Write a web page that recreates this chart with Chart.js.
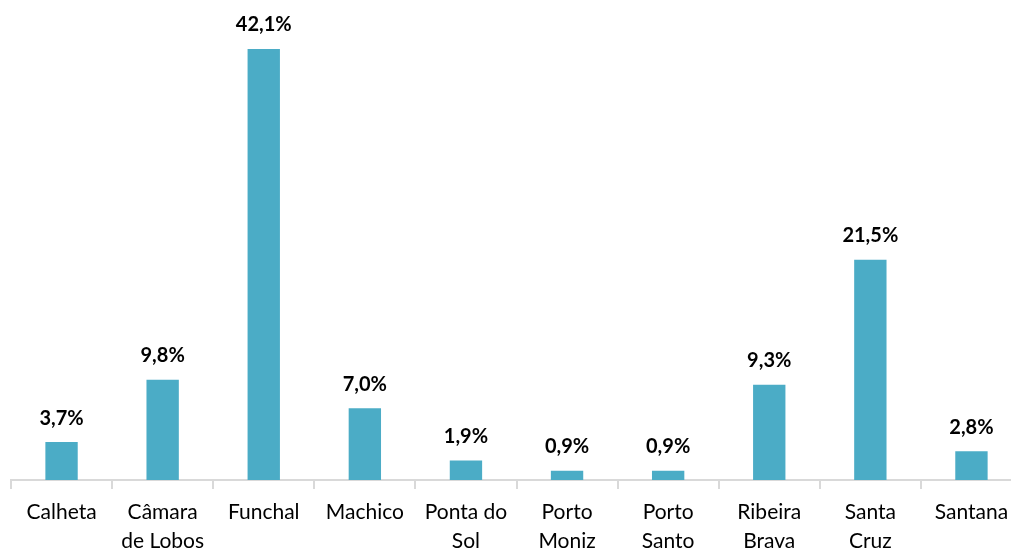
<!DOCTYPE html>
<html>
<head>
<meta charset="utf-8">
<script src="https://cdn.jsdelivr.net/npm/chart.js@4.4.0/dist/chart.umd.min.js"></script>
<style>
    html, body { margin: 0; padding: 0; background: #fff; overflow: hidden; }
    #wrap { position: relative; width: 1024px; height: 548px; }
</style>
</head>
<body>
<div id="wrap"><canvas id="chart"></canvas></div>
<script>
const categories = [
    ['Calheta'], ['Câmara', 'de Lobos'], ['Funchal'], ['Machico'], ['Ponta do', 'Sol'],
    ['Porto', 'Moniz'], ['Porto', 'Santo'], ['Ribeira', 'Brava'], ['Santa', 'Cruz'], ['Santana']
];
const shares = [3.7, 9.8, 42.1, 7.0, 1.9, 0.9, 0.9, 9.3, 21.5, 2.8];

const FONT = 'Lato, "Open Sans", sans-serif';

// labels above bars, comma decimal like the original
const valueLabels = {
    id: 'valueLabels',
    afterDatasetsDraw(chart) {
        const ctx = chart.ctx;
        const meta = chart.getDatasetMeta(0);
        ctx.save();
        ctx.font = 'bold 20px ' + FONT;
        ctx.fillStyle = '#000';
        ctx.textAlign = 'center';
        ctx.textBaseline = 'middle';
        meta.data.forEach((bar, i) => {
            const txt = shares[i].toFixed(1).replace('.', ',') + '%';
            ctx.fillText(txt, bar.x, bar.y - 24);
        });
        ctx.restore();
    }
};

new Chart(document.getElementById('chart'), {
    type: 'bar',
    data: {
        labels: categories,
        datasets: [{
            data: shares,
            backgroundColor: '#4bacc6',
            barPercentage: 0.32,
            categoryPercentage: 1.0
        }]
    },
    options: {
        responsive: true,
        maintainAspectRatio: false,
        animation: false,
        layout: { padding: { left: 11, right: 2, top: 0, bottom: 0 } },
        plugins: {
            legend: { display: false },
            tooltip: { enabled: false }
        },
        scales: {
            y: {
                display: false,
                min: 0,
                max: 46.875
            },
            x: {
                afterFit(scale) { scale.height = 68; },
                border: { color: '#d9d9d9', width: 2 },
                grid: {
                    offset: true,
                    drawOnChartArea: false,
                    drawTicks: true,
                    tickLength: 9,
                    color: '#d9d9d9',
                    lineWidth: 2
                },
                ticks: {
                    color: '#000',
                    font: { family: FONT, size: 21, lineHeight: 1.38 },
                    padding: 9,
                    maxRotation: 0,
                    autoSkip: false
                }
            }
        }
    },
    plugins: [valueLabels]
});
</script>
</body>
</html>
